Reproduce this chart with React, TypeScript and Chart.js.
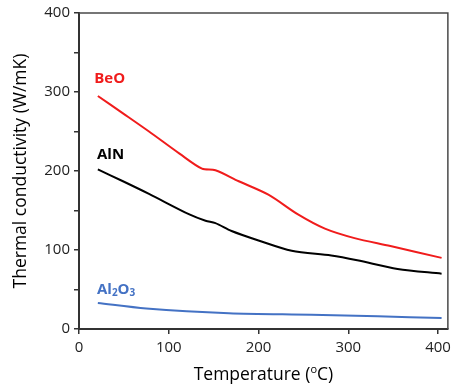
import React, { useEffect, useRef } from "react";
import { Chart, registerables } from "chart.js";
Chart.register(...registerables);

const beoT = [21, 49, 78, 112, 137, 152, 178, 211, 244, 274, 307, 347, 404];
const beoK = [295, 273, 250, 222, 203, 201, 187, 170, 145, 127, 115, 105, 90];
const alnT = [21, 49, 78, 123, 141, 152, 170, 200, 237, 281, 310, 355, 404];
const alnK = [202, 187, 171, 145, 137, 134, 124, 112, 99, 93, 87, 76, 70];
const al2o3T = [21, 75, 167, 259, 333, 404];
const al2o3K = [33, 26, 20, 18, 16, 14];

const xTicks = [0, 100, 200, 300, 400];
const yTicks = [0, 100, 200, 300, 400];

const xTitle = "Temperature (";
const xTitleSup = "o";
const xTitleEnd = "C)";
const yTitle = "Thermal conductivity (W/mK)";

// series label anchors in data units [T, k]
const labelBeO = [17, 317];
const labelAlN = [20, 220];
const labelAl2O3 = [20, 50];

const RED = "#f01c1c";
const BLACK = "#000000";
const BLUE = "#4472c4";
const FONT = "'Open Sans', sans-serif";

const toPts = (t: number[], k: number[]) => t.map((v, i) => ({ x: v, y: k[i] }));

const decorPlugin = {
  id: "decor",
  afterDraw(chart: any) {
    const { ctx, chartArea, scales } = chart;
    const { left, top, right, bottom } = chartArea;
    const x = scales.x;
    const y = scales.y;
    ctx.save();
    // top & right frame
    ctx.strokeStyle = "#4a4a4a";
    ctx.lineWidth = 1.5;
    ctx.beginPath();
    ctx.moveTo(left, top);
    ctx.lineTo(right, top);
    ctx.lineTo(right, bottom);
    ctx.stroke();

    // series labels
    ctx.textBaseline = "middle";
    ctx.textAlign = "left";
    ctx.font = `bold 15px ${FONT}`;
    ctx.fillStyle = RED;
    ctx.fillText("BeO", x.getPixelForValue(labelBeO[0]), y.getPixelForValue(labelBeO[1]));
    ctx.fillStyle = BLACK;
    ctx.fillText("AlN", x.getPixelForValue(labelAlN[0]), y.getPixelForValue(labelAlN[1]));
    ctx.fillStyle = BLUE;
    let px = x.getPixelForValue(labelAl2O3[0]);
    const py = y.getPixelForValue(labelAl2O3[1]);
    const parts: [string, boolean][] = [["Al", false], ["2", true], ["O", false], ["3", true]];
    for (const [s, sub] of parts) {
      ctx.font = sub ? `bold 10px ${FONT}` : `bold 15px ${FONT}`;
      ctx.fillText(s, px, sub ? py + 4 : py);
      px += ctx.measureText(s).width;
    }

    // axis titles
    ctx.fillStyle = "#000";
    ctx.textBaseline = "alphabetic";
    const fs = 17.5;
    ctx.font = `${fs}px ${FONT}`;
    const w1 = ctx.measureText(xTitle).width;
    ctx.font = `11px ${FONT}`;
    const w2 = ctx.measureText(xTitleSup).width;
    ctx.font = `${fs}px ${FONT}`;
    const w3 = ctx.measureText(xTitleEnd).width;
    const total = w1 + w2 + w3;
    let tx = (left + right) / 2 - total / 2;
    const ty = 380;
    ctx.textAlign = "left";
    ctx.fillText(xTitle, tx, ty);
    tx += w1;
    ctx.font = `11px ${FONT}`;
    ctx.fillText(xTitleSup, tx, ty - 7);
    tx += w2;
    ctx.font = `${fs}px ${FONT}`;
    ctx.fillText(xTitleEnd, tx, ty);

    ctx.translate(26, (top + bottom) / 2);
    ctx.rotate(-Math.PI / 2);
    ctx.textAlign = "center";
    ctx.fillText(yTitle, 0, 0);
    ctx.restore();
  },
};

export default function App() {
  const ref = useRef<HTMLCanvasElement>(null);
  useEffect(() => {
    const chart = new Chart(ref.current!, {
      type: "line",
      data: {
        datasets: [
          { label: "BeO", data: toPts(beoT, beoK), borderColor: RED, borderWidth: 2, pointRadius: 0, tension: 0.3, fill: false },
          { label: "AlN", data: toPts(alnT, alnK), borderColor: BLACK, borderWidth: 2, pointRadius: 0, tension: 0.3, fill: false },
          { label: "Al2O3", data: toPts(al2o3T, al2o3K), borderColor: BLUE, borderWidth: 2, pointRadius: 0, tension: 0.3, fill: false },
        ],
      },
      options: {
        responsive: false,
        animation: false,
        layout: { padding: { left: 0, top: 10, right: 5, bottom: 0 } },
        plugins: { legend: { display: false }, tooltip: { enabled: false } },
        scales: {
          x: {
            type: "linear",
            min: 0,
            max: 411,
            afterFit: (s: any) => { s.height = 56; },
            afterBuildTicks: (s: any) => { s.ticks = xTicks.map((v) => ({ value: v })); },
            ticks: { color: "#222", font: { family: FONT, size: 15 }, padding: 5, maxRotation: 0, callback: (v: any) => String(v) },
            grid: { display: true, drawOnChartArea: false, drawTicks: true, tickLength: 5, color: "#333", lineWidth: 1.5 },
            border: { display: true, color: "#333", width: 2 },
          },
          y: {
            type: "linear",
            min: 0,
            max: 400,
            afterFit: (s: any) => { s.width = 79; },
            afterBuildTicks: (s: any) => {
              const t: any[] = [];
              for (let v = 0; v <= 400; v += 50) t.push({ value: v });
              s.ticks = t;
            },
            ticks: {
              color: "#222",
              font: { family: FONT, size: 15 },
              padding: 4,
              autoSkip: false,
              callback: (v: any) => (yTicks.includes(Number(v)) ? String(v) : ""),
            },
            grid: { display: true, drawOnChartArea: false, drawTicks: true, tickLength: 5, color: "#333", lineWidth: 1.5 },
            border: { display: true, color: "#333", width: 2 },
          },
        },
      },
      plugins: [decorPlugin],
    } as any);
    return () => chart.destroy();
  }, []);
  return (
    <div style={{ position: "fixed", left: 0, top: 0, width: 456, height: 385, background: "#fff" }}>
      <canvas ref={ref} width={456} height={385} />
    </div>
  );
}
